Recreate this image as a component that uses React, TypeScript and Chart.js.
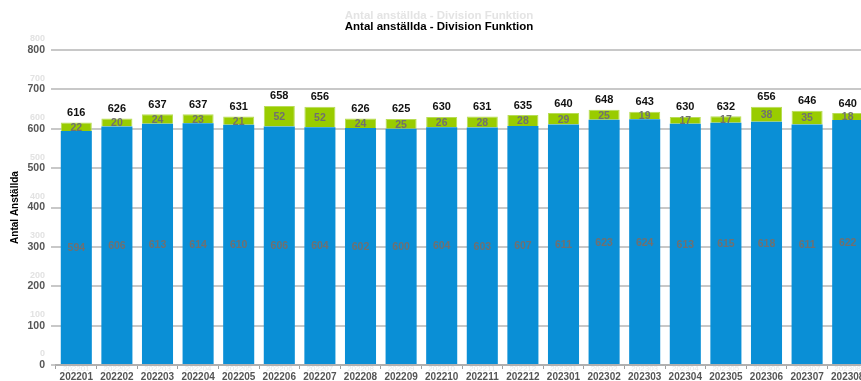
import React, { useEffect, useRef } from "react";
import { Chart, registerables } from "chart.js";

Chart.register(...registerables);

const categories = [
  "202201", "202202", "202203", "202204", "202205", "202206", "202207", "202208", "202209", "202210",
  "202211", "202212", "202301", "202302", "202303", "202304", "202305", "202306", "202307", "202308",
];
const blueValues = [594, 606, 613, 614, 610, 606, 604, 602, 600, 604, 603, 607, 611, 623, 624, 613, 615, 618, 611, 622];
const greenValues = [22, 20, 24, 23, 21, 52, 52, 24, 25, 26, 28, 28, 29, 25, 19, 17, 17, 38, 35, 18];
const totals = [616, 626, 637, 637, 631, 658, 656, 626, 625, 630, 631, 635, 640, 648, 643, 630, 632, 656, 646, 640];
const yMax = 800;
const yStep = 100;
const titleText = "Antal anställda - Division Funktion";
const yAxisTitle = "Antal Anställda";

const FONT = "'Liberation Sans', Arial, sans-serif";

const labelsPlugin = {
  id: "valueLabels",
  afterDatasetsDraw(chart: any) {
    const ctx = chart.ctx;
    const m0 = chart.getDatasetMeta(0);
    const m1 = chart.getDatasetMeta(1);
    ctx.save();
    ctx.textAlign = "center";
    for (let i = 0; i < categories.length; i++) {
      const b0 = m0.data[i].getProps(["x", "y", "base"], true);
      const b1 = m1.data[i].getProps(["x", "y", "base"], true);
      ctx.font = `bold 10.5px ${FONT}`;
      ctx.fillStyle = "#707070";
      ctx.textBaseline = "middle";
      ctx.fillText(String(blueValues[i]), b0.x, (b0.y + b0.base) / 2 + 1);
      ctx.fillText(String(greenValues[i]), b1.x, (b1.y + b1.base) / 2 + 1);
      ctx.font = `bold 11px ${FONT}`;
      ctx.fillStyle = "#111";
      ctx.textBaseline = "bottom";
      ctx.fillText(String(totals[i]), b1.x, b1.y - 4);
    }
    ctx.restore();
  },
};

const decorPlugin = {
  id: "decor",
  beforeDatasetsDraw(chart: any) {
    const ctx = chart.ctx;
    const ys = chart.scales.y;
    const xs = chart.scales.x;
    ctx.save();
    // ghost tick labels
    ctx.fillStyle = "#e2e2e2";
    ctx.textAlign = "right";
    ctx.textBaseline = "middle";
    ctx.font = `bold 9px ${FONT}`;
    for (let v = 0; v <= yMax; v += yStep) {
      ctx.fillText(String(v), 45, ys.getPixelForValue(v) - 11);
    }
    ctx.textAlign = "center";
    ctx.font = `8px ${FONT}`;
    ctx.fillStyle = "#e6e6e6";
    categories.forEach((c, i) => {
      ctx.fillText(c, xs.getPixelForValue(i), 369);
    });
    ctx.restore();
  },
  afterDraw(chart: any) {
    const ctx = chart.ctx;
    ctx.save();
    ctx.textAlign = "center";
    ctx.textBaseline = "middle";
    ctx.font = `bold 11.5px ${FONT}`;
    ctx.fillStyle = "#e4e4e4";
    ctx.fillText(titleText, 439, 16);
    ctx.fillStyle = "#000";
    ctx.fillText(titleText, 439, 27);
    ctx.restore();
  },
};

export default function App() {
  const ref = useRef<HTMLCanvasElement | null>(null);
  useEffect(() => {
    if (!ref.current) return;
    Chart.defaults.font.family = FONT;
    const chart = new Chart(ref.current, {
      type: "bar",
      data: {
        labels: categories,
        datasets: [
          {
            label: "Blue",
            data: blueValues,
            backgroundColor: "#0a8fd6",
            borderWidth: 0,
            barPercentage: 0.765,
            categoryPercentage: 1,
          },
          {
            label: "Green",
            data: greenValues,
            backgroundColor: "#99cc00",
            borderColor: "#b8dd55",
            borderWidth: 1,
            barPercentage: 0.765,
            categoryPercentage: 1,
          },
        ],
      },
      options: {
        responsive: false,
        animation: false,
        devicePixelRatio: 1,
        layout: { padding: { top: 50, right: 0, bottom: 0, left: 0 } },
        plugins: {
          legend: { display: false },
          title: { display: false },
          tooltip: { enabled: false },
        },
        scales: {
          x: {
            stacked: true,
            afterFit(scale: any) {
              scale.height = 16;
            },
            border: { display: true, color: "#b0b0b0", width: 2 },
            grid: {
              display: true,
              drawOnChartArea: false,
              drawTicks: true,
              tickLength: 4,
              color: "#a0a0a0",
              offset: true,
            },
            ticks: {
              color: "#555",
              font: { size: 10, weight: "bold" },
              padding: 2,
              maxRotation: 0,
              autoSkip: false,
            },
          },
          y: {
            stacked: true,
            min: 0,
            max: yMax,
            afterFit(scale: any) {
              scale.width = 56;
            },
            border: { display: false },
            grid: {
              color: "#c8c8c8",
              lineWidth: 2,
              tickLength: 5,
              drawTicks: true,
            },
            ticks: {
              stepSize: yStep,
              color: "#555",
              font: { size: 10.5, weight: "bold" },
              padding: 6,
            },
            title: {
              display: true,
              text: yAxisTitle,
              color: "#000",
              font: { size: 10, weight: "bold" },
              padding: { top: 9, bottom: 0 },
            },
          },
        },
      },
      plugins: [decorPlugin, labelsPlugin],
    } as any);
    return () => chart.destroy();
  }, []);
  return (
    <div
      style={{
        position: "absolute",
        left: 0,
        top: 0,
        width: 861,
        height: 381,
        overflow: "hidden",
        background: "#fff",
      }}
    >
      <canvas ref={ref} width={868} height={381} style={{ display: "block" }} />
    </div>
  );
}
